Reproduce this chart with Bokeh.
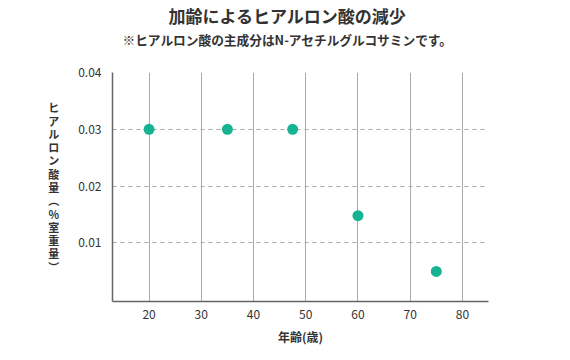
from bokeh.plotting import figure
from bokeh.models import FixedTicker, Title, Range1d
from bokeh.embed import file_html
from bokeh.resources import INLINE

ages = [20, 35, 47.5, 60, 75]
ha_amount = [0.030, 0.030, 0.030, 0.0148, 0.005]
x_ticks = [20, 30, 40, 50, 60, 70, 80]
y_ticks = [0.01, 0.02, 0.03, 0.04]

title_text = "加齢によるヒアルロン酸の減少"
subtitle_text = "※ヒアルロン酸の主成分はN-アセチルグルコサミンです。"
x_label = "年齢(歳)"
y_label_chars = ["ヒ", "ア", "ル", "ロ", "ン", "酸", "量", "︵", "%", "室", "重", "量", "︶"]

FONT = "Noto Sans CJK JP"

p = figure(width=554, height=357, output_backend="svg", toolbar_location=None,
           x_range=Range1d(13, 85), y_range=Range1d(-0.0003, 0.04),
           min_border_left=112, min_border_right=66, min_border_top=72, min_border_bottom=56)
p.outline_line_color = None

p.scatter(ages, ha_amount, size=11, color="#16b393", line_color=None)

p.xaxis.ticker = FixedTicker(ticks=x_ticks)
p.yaxis.ticker = FixedTicker(ticks=y_ticks)
for ax in (p.xaxis[0], p.yaxis[0]):
    ax.major_tick_line_color = None
    ax.minor_tick_line_color = None
    ax.axis_line_color = "#666666"
    ax.axis_line_width = 1.5
    ax.major_label_text_font = FONT
    ax.major_label_text_font_size = "12px"
    ax.major_label_text_color = "#333333"
    ax.axis_label_text_font = FONT
    ax.axis_label_text_font_style = "bold"
    ax.axis_label_text_color = "#333333"
    ax.axis_label_text_font_size = "12px"

p.xaxis.major_label_standoff = 2
p.yaxis.major_label_standoff = 5
p.xaxis.axis_label = x_label
p.xaxis.axis_label_standoff = 6
p.yaxis.axis_label = "\n".join(y_label_chars)
p.yaxis.axis_label_orientation = "horizontal"
p.yaxis.axis_label_text_font_size = "11px"
p.yaxis.axis_label_text_line_height = 0.83
p.yaxis.axis_label_standoff = 16

p.xgrid.grid_line_color = "#aaaaaa"
p.xgrid.grid_line_width = 1
p.ygrid.grid_line_color = "#aaaaaa"
p.ygrid.grid_line_dash = "4 4"

spacer = Title(text=" ", text_font=FONT, text_font_size="10px", standoff=7)
sub = Title(text=subtitle_text, align="left", text_font=FONT,
            text_font_size="12.7px", text_font_style="bold", text_color="#333333",
            offset=10, standoff=0)
ttl = Title(text=title_text, align="left", text_font=FONT, text_font_size="17px",
            text_font_style="bold", text_color="#333333", offset=56, standoff=0)
p.add_layout(spacer, "above")
p.add_layout(sub, "above")
p.add_layout(ttl, "above")

open("out.html", "w").write(file_html(p, INLINE))
